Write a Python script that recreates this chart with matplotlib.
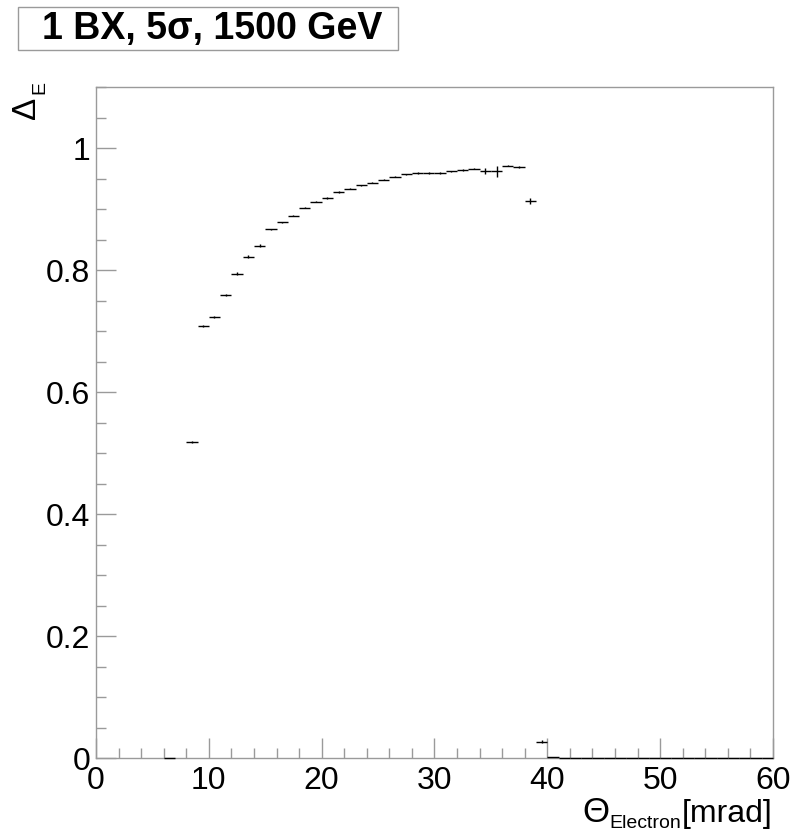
import matplotlib
matplotlib.use("Agg")
import matplotlib.pyplot as plt
from matplotlib.patches import Rectangle
from matplotlib.ticker import MultipleLocator, FixedLocator

plt.rcParams['font.family'] = ['Liberation Sans', 'DejaVu Sans']

# ---- data ----
bin_centers = [6.5, 8.5, 9.5, 10.5, 11.5, 12.5, 13.5, 14.5, 15.5, 16.5, 17.5,
               18.5, 19.5, 20.5, 21.5, 22.5, 23.5, 24.5, 25.5, 26.5, 27.5,
               28.5, 29.5, 30.5, 31.5, 32.5, 33.5, 34.5, 35.5, 36.5, 37.5,
               38.5, 39.5, 40.5, 41.5, 42.5, 43.5, 44.5, 45.5, 46.5, 47.5,
               48.5, 49.5, 50.5, 51.5, 52.5, 53.5, 54.5, 55.5, 56.5, 57.5,
               58.5, 59.5]
delta_e = [0.0005, 0.518, 0.708, 0.723, 0.759, 0.794, 0.822, 0.840, 0.867, 0.878,
           0.889, 0.902, 0.912, 0.918, 0.928, 0.933, 0.939, 0.943, 0.948, 0.953,
           0.957, 0.959, 0.959, 0.959, 0.962, 0.964, 0.966, 0.963, 0.962, 0.971,
           0.969, 0.913, 0.027, 0.001, 0.0005, 0.0, 0.0, 0.0, 0.0, 0.0,
           0.0, 0.0, 0.0, 0.0, 0.0, 0.0, 0.0, 0.0, 0.0, 0.0, 0.0, 0.0, 0.0]
delta_err = [0.0, 0.002, 0.002, 0.002, 0.002, 0.002, 0.002, 0.002, 0.001, 0.001,
             0.001, 0.001, 0.001, 0.001, 0.001, 0.001, 0.001, 0.001, 0.001, 0.001,
             0.001, 0.001, 0.001, 0.001, 0.001, 0.001, 0.001, 0.005, 0.009, 0.001,
             0.001, 0.005, 0.002, 0.0, 0.0, 0.0, 0.0, 0.0, 0.0, 0.0,
             0.0, 0.0, 0.0, 0.0, 0.0, 0.0, 0.0, 0.0, 0.0, 0.0, 0.0, 0.0, 0.0]
bin_half_width = 0.5

title_text = "1 BX, 5σ, 1500 GeV"
x_major_ticks = [0, 10, 20, 30, 40, 50, 60]
x_tick_labels = ["0", "10", "20", "30", "40", "50", "60"]
y_major_ticks = [0, 0.2, 0.4, 0.6, 0.8, 1.0]
y_tick_labels = ["0", "0.2", "0.4", "0.6", "0.8", "1"]

W, H = 804, 831
fig = plt.figure(figsize=(W / 100, H / 100), dpi=100)
ax = fig.add_axes([96 / W, 1 - 758 / H, (773 - 96) / W, (758 - 87) / H])

ax.errorbar(bin_centers, delta_e, xerr=bin_half_width, yerr=delta_err,
            fmt='none', ecolor='black', elinewidth=1.0, capsize=0,
            clip_on=False, zorder=5)

ax.set_xlim(0, 60)
ax.set_ylim(0, 1.1)

axis_grey = '#9a9a9a'
for s in ax.spines.values():
    s.set_color(axis_grey)
    s.set_linewidth(1.0)

ax.xaxis.set_major_locator(FixedLocator(x_major_ticks))
ax.xaxis.set_minor_locator(MultipleLocator(2))
ax.yaxis.set_major_locator(FixedLocator(y_major_ticks))
ax.yaxis.set_minor_locator(MultipleLocator(0.05))
ax.set_xticklabels(x_tick_labels)
ax.set_yticklabels(y_tick_labels)

ax.tick_params(which='both', direction='in', top=False, right=False,
               color=axis_grey, width=1.0, labelsize=23, labelcolor='black')
ax.tick_params(which='major', length=14.5)
ax.tick_params(which='minor', length=7.2)
ax.tick_params(axis='x', which='major', pad=6)
ax.tick_params(axis='y', which='major', pad=4)

def fx(px):
    return px / W

def fy(py):
    return 1 - py / H

# x axis title: Theta_Electron [mrad]
fig.text(fx(773), fy(822), "[mrad]", ha='right', va='baseline', fontsize=23)
fig.text(fx(681), fy(828), "Electron", ha='right', va='baseline', fontsize=14)
fig.text(fx(609), fy(822), "Θ", ha='right', va='baseline', fontsize=25)

# y axis title: Delta_E (rotated)
fig.text(fx(27), fy(108), "Δ", rotation=90, ha='center', va='center', fontsize=24)
fig.text(fx(40), fy(87), "E", rotation=90, ha='center', va='center', fontsize=14)

# title box
box = Rectangle((fx(18), fy(49.5)), (398 - 18) / W, (49.5 - 7.5) / H,
                transform=fig.transFigure, facecolor='white',
                edgecolor=axis_grey, linewidth=1.0)
fig.patches.append(box)
fig.text(fx(212), fy(29), title_text, ha='center', va='center',
         fontsize=27, fontweight='bold')

fig.savefig("out.png", dpi=100)
